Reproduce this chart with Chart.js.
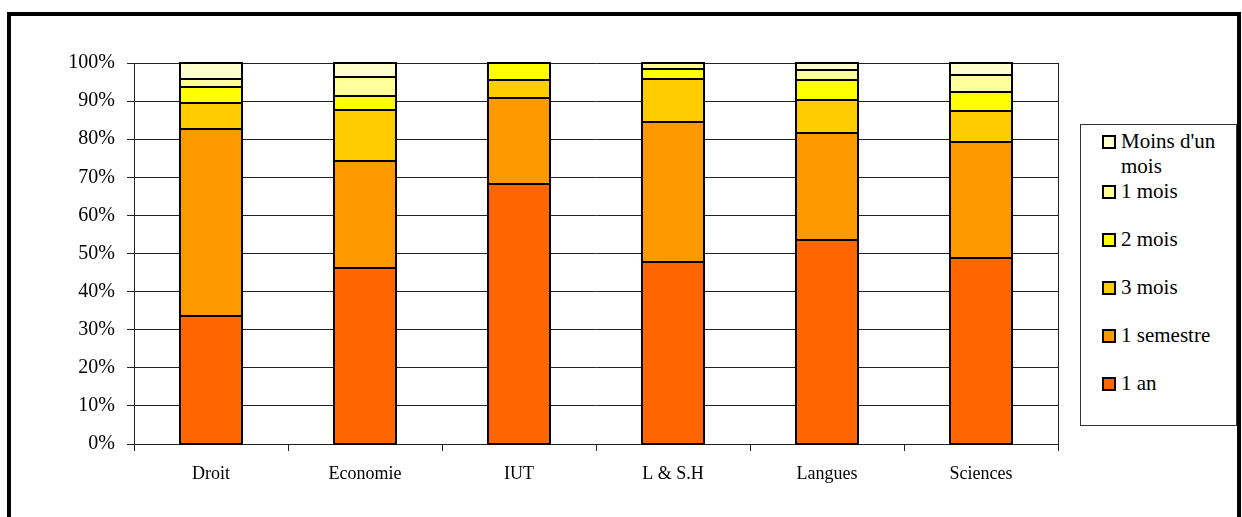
<!DOCTYPE html>
<html>
<head>
<meta charset="utf-8">
<script src="https://cdn.jsdelivr.net/npm/chart.js@4"></script>
<style>
  html, body { margin: 0; padding: 0; background: #fff; overflow: hidden; }
  body { width: 1242px; height: 517px; position: relative; }
  #frame {
    position: absolute; left: 7px; top: 12px; width: 1226px; height: 600px;
    border: 4px solid #000;
  }
  #chart { position: absolute; left: 0; top: 0; }
  #legend {
    position: absolute; left: 1080px; top: 124px; width: 155px; height: 296px;
    border: 1px solid #333; background: #fff; box-sizing: content-box;
    font-family: 'Liberation Serif', serif; font-size: 21px;
    padding-top: 4px;
  }
  .item { display: flex; align-items: flex-start; min-height: 48px; line-height: 25px; padding-left: 21px; }
  .box { width: 14px; height: 14px; border: 2px solid #000; box-sizing: border-box; margin-top: 6px; margin-right: 5px; flex: none; }
  .txt { width: 112px; }
</style>
</head>
<body>
<div id="frame"></div>
<canvas id="chart" width="1242" height="517"></canvas>
<div id="legend"></div>
<script>
// categories and series (percent of each faculty)
const faculties = ["Droit", "Economie", "IUT", "L & S.H", "Langues", "Sciences"];
const seriesNames = ["1 an", "1 semestre", "3 mois", "2 mois", "1 mois", "Moins d'un mois"];
const seriesColors = ["#ff6600", "#ff9900", "#ffcc00", "#ffff00", "#ffff99", "#ffffcc"];

const unAn       = [33.7, 46.2, 68.2, 47.9, 53.5, 48.9];
const unSemestre = [48.9, 28.2, 22.6, 36.6, 28.0, 30.4];
const troisMois  = [7.0, 13.2, 4.7, 11.3, 8.8, 8.0];
const deuxMois   = [4.2, 3.7, 4.5, 2.6, 5.2, 5.2];
const unMois     = [2.0, 5.0, 0, 1.6, 2.7, 4.4];
const moinsMois  = [4.2, 3.7, 0, 0, 1.8, 3.1];

const seriesValues = [unAn, unSemestre, troisMois, deuxMois, unMois, moinsMois];

const serif = "'Liberation Serif', serif";

// right edge of the plot area + black outlines round every bar segment
const outlines = {
  id: "outlines",
  afterDatasetsDraw(chart) {
    const c = chart.ctx;
    const a = chart.chartArea;
    c.save();
    c.strokeStyle = "#222";
    c.lineWidth = 1;
    c.beginPath();
    c.moveTo(Math.round(a.right) + 0.5, a.top);
    c.lineTo(Math.round(a.right) + 0.5, a.bottom);
    c.stroke();

    c.strokeStyle = "#000";
    c.lineWidth = 2;
    chart.data.datasets.forEach((ds, i) => {
      chart.getDatasetMeta(i).data.forEach((bar, j) => {
        if (!ds.data[j]) return;
        const left = Math.round(bar.x - bar.width / 2);
        const right = Math.round(bar.x + bar.width / 2);
        const top = Math.round(bar.y);
        const bottom = Math.round(bar.base);
        c.strokeRect(left, top, right - left, bottom - top);
      });
    });
    c.restore();
  }
};

const chart = new Chart(document.getElementById("chart"), {
  type: "bar",
  data: {
    labels: faculties,
    datasets: seriesNames.map((name, i) => ({
      label: name,
      data: seriesValues[i],
      backgroundColor: seriesColors[i],
      borderWidth: 0,
      categoryPercentage: 1,
      barPercentage: 0.4,
    })),
  },
  options: {
    responsive: false,
    animation: false,
    layout: { padding: { left: 0, top: 63, right: 184, bottom: 0 } },
    plugins: { legend: { display: false }, tooltip: { enabled: false } },
    scales: {
      x: {
        stacked: true,
        afterFit: (s) => { s.height = 73; },
        grid: { offset: true, drawOnChartArea: false, tickLength: 7, color: "#222" },
        border: { color: "#222", width: 1 },
        ticks: { color: "#000", font: { family: serif, size: 18 }, padding: 12 },
      },
      y: {
        stacked: true,
        min: 0,
        max: 100,
        afterFit: (s) => { s.width = 134; },
        grid: { color: "#222", tickLength: 7 },
        border: { color: "#222", width: 1 },
        ticks: {
          stepSize: 10,
          color: "#000",
          padding: 12,
          font: { family: serif, size: 20 },
          callback: (v) => v + "%",
        },
      },
    },
  },
  plugins: [outlines],
});

// legend, top entry first like the original
const legendBox = document.getElementById("legend");
chart.data.datasets.slice().reverse().forEach((ds) => {
  const item = document.createElement("div");
  item.className = "item";
  item.innerHTML = `<span class="box" style="background:${ds.backgroundColor}"></span><span class="txt">${ds.label}</span>`;
  legendBox.appendChild(item);
});
</script>
</body>
</html>
